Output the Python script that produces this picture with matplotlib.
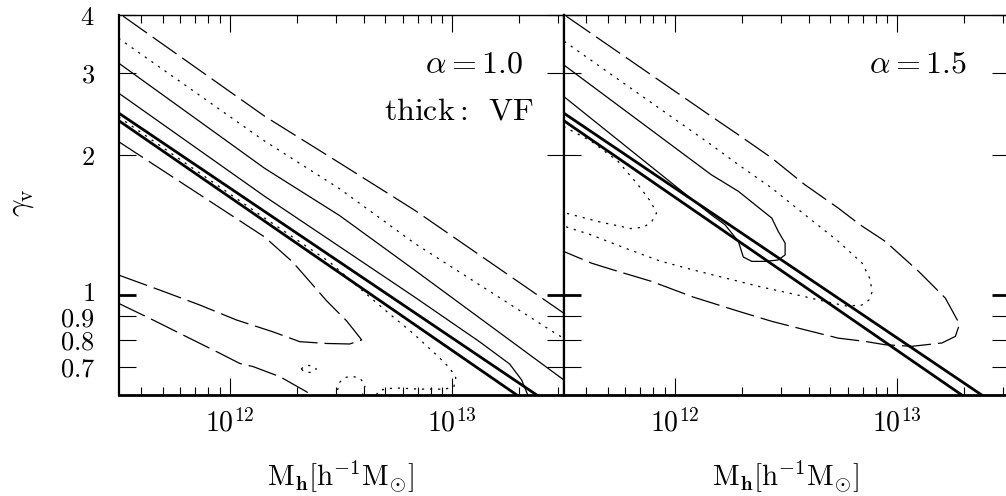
import matplotlib
matplotlib.use("Agg")
import numpy as np
import matplotlib.pyplot as plt
import matplotlib.transforms as mtransforms
from matplotlib.ticker import FixedLocator, FixedFormatter, NullLocator, NullFormatter

plt.rcParams['mathtext.fontset'] = 'cm'
plt.rcParams['lines.scale_dashes'] = False

# contours are stored as log10(M_h) and gamma_v pairs

# thick lines: VF constraint, identical in both panels
vf_hi_logm = [11.5, 13.40]
vf_hi_gam = [2.46, 0.600]
vf_lo_logm = [11.5, 13.31]
vf_lo_gam = [2.37, 0.600]

# alpha = 1.0 -------------------------------------------------------------
a10_dash_top_logm = [11.521, 12.157, 12.494, 12.831, 13.5]
a10_dash_top_gam = [3.97, 2.42, 1.92, 1.52, 0.914]

a10_dot_top_logm = [11.5, 12.157, 12.494, 12.831, 13.461, 13.5]
a10_dot_top_gam = [3.56, 2.14, 1.69, 1.29, 0.828, 0.807]

a10_solid_top_logm = [11.5, 12.157, 12.494, 12.831, 13.5]
a10_solid_top_gam = [3.15, 1.87, 1.48, 1.13, 0.657]

a10_solid_bot_logm = [11.5, 12.157, 12.831, 13.124, 13.258, 13.312, 13.345]
a10_solid_bot_gam = [2.715, 1.628, 0.989, 0.792, 0.710, 0.656, 0.600]

a10_dot_bot_logm = [11.5, 12.157, 12.449, 12.593, 12.719, 12.822, 12.930, 12.989,
                    13.016, 13.007, 12.966, 12.854, 12.742, 12.674, 12.647]
a10_dot_bot_gam = [2.413, 1.462, 1.176, 1.024, 0.909, 0.828, 0.742, 0.696,
                   0.663, 0.634, 0.627, 0.627, 0.631, 0.624, 0.600]

a10_islandA_logm = [12.321, 12.337, 12.355, 12.373, 12.389, 12.373, 12.355, 12.337, 12.321]
a10_islandA_gam = [0.693, 0.703, 0.705, 0.703, 0.693, 0.682, 0.681, 0.682, 0.693]

a10_islandB_logm = [12.479, 12.490, 12.517, 12.548, 12.584, 12.609, 12.598, 12.594]
a10_islandB_gam = [0.600, 0.646, 0.664, 0.668, 0.663, 0.640, 0.615, 0.600]

a10_dash_mid_logm = [11.5, 12.157, 12.283, 12.436, 12.526, 12.593, 12.539, 12.436,
                     12.315, 12.193, 12.030, 11.865, 11.685, 11.5]
a10_dash_mid_gam = [2.135, 1.331, 1.176, 0.970, 0.878, 0.800, 0.784, 0.786,
                    0.793, 0.833, 0.883, 0.951, 1.024, 1.103]

a10_dash_low_logm = [11.5, 11.655, 11.805, 11.955, 12.045, 12.105, 12.225, 12.345, 12.38]
a10_dash_low_gam = [0.959, 0.883, 0.813, 0.749, 0.712, 0.701, 0.667, 0.619, 0.600]

# alpha = 1.5 -------------------------------------------------------------
a15_dash_logm = [11.513, 12.164, 12.286, 12.436, 12.585, 12.735, 12.833, 12.946, 13.096,
                 13.216, 13.280, 13.261, 13.201, 13.066, 12.946, 12.856, 12.735, 12.585,
                 12.436, 12.286, 12.083, 11.895, 11.745, 11.625, 11.5]
a15_dash_gam = [3.968, 2.419, 2.208, 1.968, 1.724, 1.536, 1.414, 1.303, 1.123,
                0.984, 0.865, 0.814, 0.788, 0.775, 0.781, 0.794, 0.807, 0.841,
                0.877, 0.922, 0.989, 1.069, 1.123, 1.170, 1.240]

a15_dot_logm = [11.503, 12.164, 12.286, 12.436, 12.585, 12.735, 12.842, 12.878, 12.887,
                12.873, 12.842, 12.773, 12.683, 12.533, 12.383, 12.233, 12.083, 11.934,
                11.775, 11.625, 11.5]
a15_dot_gam = [3.506, 2.101, 1.904, 1.696, 1.486, 1.303, 1.170, 1.081, 1.014,
               0.975, 0.951, 0.946, 0.966, 1.004, 1.041, 1.085, 1.131, 1.182,
               1.261, 1.345, 1.406]

a15_solid_logm = [11.5, 12.164, 12.286, 12.436, 12.465, 12.496, 12.496, 12.464,
                  12.406, 12.346, 12.308, 12.286, 12.226, 12.164, 11.5]
a15_solid_gam = [3.123, 1.812, 1.669, 1.462, 1.369, 1.292, 1.218, 1.188,
                 1.180, 1.180, 1.206, 1.303, 1.414, 1.486, 2.671]

a15_dot_in_logm = [11.5, 11.625, 11.745, 11.835, 11.893, 11.918, 11.898, 11.862,
                   11.803, 11.664, 11.5]
a15_dot_in_gam = [2.302, 2.138, 1.936, 1.724, 1.583, 1.499, 1.441, 1.398,
                  1.388, 1.434, 1.503]

# axis ticks
x_major = [1e12, 1e13]
x_major_labels = [r'$10^{12}$', r'$10^{13}$']
x_minor = [k * 10.0**e for e in (11, 12, 13) for k in range(2, 10)]
y_ticks = [0.7, 0.8, 0.9, 1, 2, 3, 4]
y_tick_labels = [r'$0.7$', r'$0.8$', r'$0.9$', r'$1$', r'$2$', r'$3$', r'$4$']

long_dash = (0, (21, 5))
dotted = (0, (1.6, 4.2))
thin = 0.9
thick = 2.0


def draw(ax, logm, gam, ls, lw=thin):
    ax.plot(10.0**np.asarray(logm), gam, color='black', lw=lw, linestyle=ls,
            solid_capstyle='butt', dash_capstyle='butt')


def style_axes(ax, ylabels):
    ax.set_xscale('log')
    ax.set_yscale('log')
    ax.set_xlim(10**11.5, 10**13.5)
    ax.set_ylim(0.61, 4.0)
    ax.xaxis.set_major_locator(FixedLocator(x_major))
    ax.xaxis.set_major_formatter(FixedFormatter(x_major_labels))
    ax.xaxis.set_minor_locator(FixedLocator(x_minor))
    ax.xaxis.set_minor_formatter(NullFormatter())
    ax.yaxis.set_major_locator(FixedLocator(y_ticks))
    ax.yaxis.set_minor_locator(NullLocator())
    if ylabels:
        ax.yaxis.set_major_formatter(FixedFormatter(y_tick_labels))
    else:
        ax.yaxis.set_major_formatter(NullFormatter())
    ax.yaxis.set_minor_formatter(NullFormatter())
    ax.tick_params(which='both', direction='in', top=True, right=True, width=0.8, color='black')
    ax.tick_params(which='major', length=12)
    ax.tick_params(which='minor', length=6)
    ax.tick_params(axis='x', pad=10, labelsize=20)
    ax.tick_params(axis='y', pad=17, labelsize=19)
    # heavier tick at gamma = 1; its label sits a little higher so it clears 0.9
    lift = mtransforms.ScaledTranslation(0, 3 / 72, ax.figure.dpi_scale_trans)
    for tick, loc in zip(ax.yaxis.get_major_ticks(), ax.yaxis.get_majorticklocs()):
        if loc == 1:
            tick.tick1line.set_markeredgewidth(2.0)
            tick.tick2line.set_markeredgewidth(2.0)
            tick.label1.set_transform(tick.label1.get_transform() + lift)
    ax.spines['top'].set_linewidth(1.0)
    ax.spines['bottom'].set_linewidth(2.0)
    ax.spines['left'].set_linewidth(1.6)
    ax.spines['right'].set_linewidth(1.6)
    ax.set_xlabel(r'$\mathrm{M}_{\mathbf{h}}[\mathrm{h}^{-1}\mathrm{M}_{\odot}]$', fontsize=21, labelpad=15)


W, H = 1006, 496
fig = plt.figure(figsize=(W / 100, H / 100), dpi=100)
ax1 = fig.add_axes([118.5 / W, (H - 394.7) / H, 445 / W, 380 / H])
ax2 = fig.add_axes([563.5 / W, (H - 394.7) / H, 445 / W, 380 / H])

# left panel
draw(ax1, a10_dash_top_logm, a10_dash_top_gam, long_dash)
draw(ax1, a10_dash_mid_logm, a10_dash_mid_gam, long_dash)
draw(ax1, a10_dash_low_logm, a10_dash_low_gam, long_dash)
draw(ax1, a10_dot_top_logm, a10_dot_top_gam, dotted)
draw(ax1, a10_dot_bot_logm, a10_dot_bot_gam, dotted)
draw(ax1, a10_islandA_logm, a10_islandA_gam, dotted)
draw(ax1, a10_islandB_logm, a10_islandB_gam, dotted)
draw(ax1, a10_solid_top_logm, a10_solid_top_gam, '-')
draw(ax1, a10_solid_bot_logm, a10_solid_bot_gam, '-')
draw(ax1, vf_hi_logm, vf_hi_gam, '-', thick)
draw(ax1, vf_lo_logm, vf_lo_gam, '-', thick)
style_axes(ax1, True)
ax1.text(0.909, 0.8466, r'$\alpha=1.0$', transform=ax1.transAxes, ha='right', va='baseline', fontsize=23)
ax1.text(0.9315, 0.723, r'$\mathrm{thick{:}\ \,VF}$', transform=ax1.transAxes, ha='right', va='baseline', fontsize=23)

# right panel
draw(ax2, a15_dash_logm, a15_dash_gam, long_dash)
draw(ax2, a15_dot_logm, a15_dot_gam, dotted)
draw(ax2, a15_dot_in_logm, a15_dot_in_gam, dotted)
draw(ax2, a15_solid_logm, a15_solid_gam, '-')
draw(ax2, vf_hi_logm, vf_hi_gam, '-', thick)
draw(ax2, vf_lo_logm, vf_lo_gam, '-', thick)
style_axes(ax2, False)
ax2.text(0.9067, 0.8466, r'$\alpha=1.5$', transform=ax2.transAxes, ha='right', va='baseline', fontsize=23)

fig.text(22 / W, (H - 203) / H, r'$\gamma_{\mathrm{v}}$', rotation=90, ha='center', va='center', fontsize=22)

fig.savefig('out.png', dpi=100)
